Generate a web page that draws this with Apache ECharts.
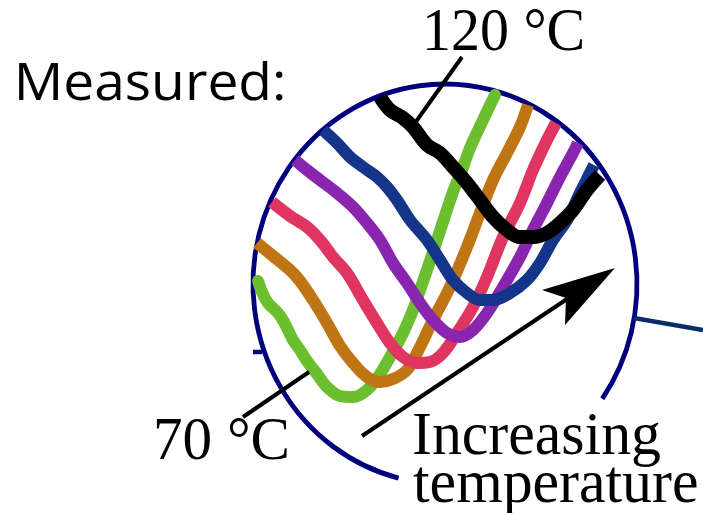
<!DOCTYPE html>
<html>
<head>
<meta charset="utf-8">
<script src="https://cdn.jsdelivr.net/npm/echarts@6/dist/echarts.min.js"></script>
<style>html,body{margin:0;padding:0;background:#fff;}#c{width:703px;height:513px;}</style>
</head>
<body>
<div id="c"></div>
<script>
// Schematic spectra seen inside the magnifier (drawing units, y grows downward)
const temperatures = ['70 °C', '80 °C', '90 °C', '100 °C', '110 °C', '120 °C'];
const colors = ['#6bbf2f', '#c07514', '#df3560', '#8a25b0', '#14358a', '#000000'];

const curve70 = [[258,281],[262,292],[268,303],[278,313],[284,322],[293,340],[300,350],[307,361],[317,374],[327,387],[340,396],[353,397],[367,390],[380,374],[390,357],[403,333],[413,310],[420,290],[427,270],[440,231],[453,192],[462,170],[470,148],[483,120],[495,95]];
const curve80 = [[257,243],[273,256],[290,270],[300,281],[313,300],[327,323],[340,346],[353,363],[367,377],[380,382],[393,379],[407,370],[420,347],[433,320],[450,287],[467,247],[480,213],[493,180],[507,153],[520,127],[528,105]];
const curve90 = [[272,202],[290,216],[307,227],[320,240],[333,257],[347,273],[363,300],[377,323],[390,343],[403,357],[417,363],[430,362],[443,353],[457,333],[473,307],[487,277],[503,237],[520,203],[533,170],[547,140],[556,123]];
const curve100 = [[295,160],[307,170],[320,180],[337,193],[353,207],[367,223],[380,240],[393,263],[407,283],[420,303],[433,320],[447,333],[460,337],[473,330],[487,313],[503,287],[520,257],[533,230],[547,203],[560,177],[573,153],[578,143]];
const curve110 = [[323,130],[337,143],[350,157],[363,167],[377,177],[387,187],[397,200],[410,220],[427,240],[440,260],[453,280],[467,293],[480,300],[493,300],[510,293],[527,280],[540,263],[553,240],[567,220],[580,193],[590,173],[594,165]];
const curve120 = [[380,97],[390,110],[403,118],[413,127],[427,145],[440,153],[453,167],[467,183],[480,200],[493,217],[507,230],[520,237],[533,237],[547,233],[560,223],[573,210],[587,190],[600,175]];
const curves = [curve70, curve80, curve90, curve100, curve110, curve120];

const labelMeasured = 'Measured:';
const labelHigh = '120 °C';
const labelLow = '70 °C';
const labelArrow1 = 'Increasing';
const labelArrow2 = 'temperature';

const chart = echarts.init(document.getElementById('c'), null, {renderer: 'canvas'});
const D = Math.PI / 180;
const serif = '"Liberation Serif", "Times New Roman", serif';

const series = curves.map((c, i) => ({
  type: 'line',
  name: temperatures[i],
  data: c,
  showSymbol: false,
  smooth: 0.35,
  silent: true,
  z: 3 + i,
  lineStyle: {color: colors[i], width: i === 5 ? 14 : 12, cap: i === 0 ? 'round' : 'butt', join: 'round'}
}));

chart.setOption({
  animation: false,
  backgroundColor: '#ffffff',
  grid: {left: 0, right: 0, top: 0, bottom: 0, containLabel: false},
  xAxis: {type: 'value', min: 0, max: 703, show: false},
  yAxis: {type: 'value', min: 0, max: 513, inverse: true, show: false},
  series: series,
  graphic: [
    {type: 'arc', z: 1, origin: [445, 284], scaleY: 200 / 192,
      shape: {cx: 445, cy: 284, r: 192, startAngle: 104 * D, endAngle: 395 * D, clockwise: true},
      style: {stroke: '#00007f', lineWidth: 4.8, fill: null}},
    {type: 'line', z: 1, shape: {x1: 253, y1: 352, x2: 262, y2: 352}, style: {stroke: '#00007f', lineWidth: 4.5}},
    {type: 'line', z: 1, shape: {x1: 634, y1: 318, x2: 703, y2: 330}, style: {stroke: '#0b2c69', lineWidth: 4.5}},
    {type: 'line', z: 20, shape: {x1: 462, y1: 57, x2: 415, y2: 123}, style: {stroke: '#000', lineWidth: 4}},
    {type: 'line', z: 20, shape: {x1: 243, y1: 417, x2: 309, y2: 372}, style: {stroke: '#000', lineWidth: 4}},
    {type: 'line', z: 20, shape: {x1: 362, y1: 436, x2: 570, y2: 297}, style: {stroke: '#000', lineWidth: 4}},
    {type: 'polygon', z: 20, shape: {points: [[615, 268], [542, 290], [566, 298], [565, 325]]}, style: {fill: '#000'}},
    {type: 'text', z: 20, x: 15, y: 85, scaleX: 1.08, originX: 15, style: {text: labelMeasured, font: '51px "Open Sans"', fill: '#000', textAlign: 'left', textVerticalAlign: 'middle'}},
    {type: 'text', z: 20, x: 422, y: 34, scaleX: 0.95, style: {text: labelHigh, font: '61px ' + serif, fill: '#000', textAlign: 'left', textVerticalAlign: 'middle'}},
    {type: 'text', z: 20, x: 153, y: 443, scaleX: 0.97, style: {text: labelLow, font: '61px ' + serif, fill: '#000', textAlign: 'left', textVerticalAlign: 'middle'}},
    {type: 'text', z: 20, x: 412, y: 437.5, scaleX: 0.98, style: {text: labelArrow1, font: '61px ' + serif, fill: '#000', textAlign: 'left', textVerticalAlign: 'middle'}},
    {type: 'text', z: 20, x: 413, y: 486, scaleX: 0.98, style: {text: labelArrow2, font: '61px ' + serif, fill: '#000', textAlign: 'left', textVerticalAlign: 'middle'}}
  ]
});
</script>
</body>
</html>
